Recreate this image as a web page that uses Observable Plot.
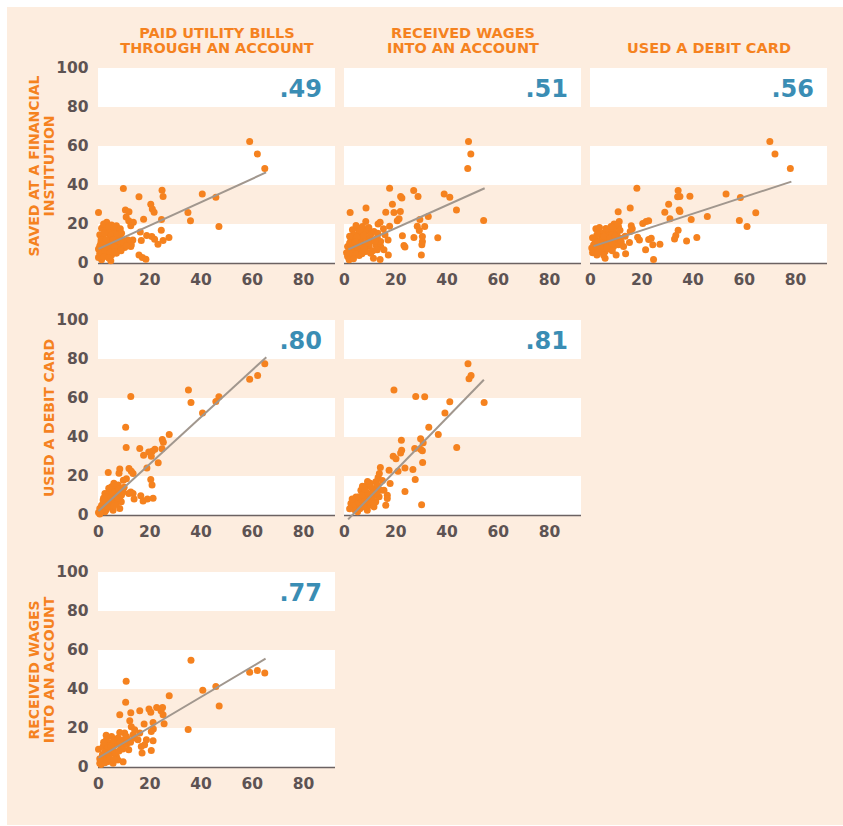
<!DOCTYPE html>
<html><head><meta charset="utf-8">
<script src="https://cdn.jsdelivr.net/npm/d3@7"></script>
<script src="https://cdn.jsdelivr.net/npm/@observablehq/plot@0.6"></script>
<style>html,body{margin:0;padding:0;background:#fff;}#chart svg{display:block;}</style>
</head><body><div id="chart"></div>
<script>
// ---- categories & labels ----
const columnTitles = ["PAID UTILITY BILLS\nTHROUGH AN ACCOUNT", "RECEIVED WAGES\nINTO AN ACCOUNT", "USED A DEBIT CARD"];
const rowTitles = ["SAVED AT A FINANCIAL\nINSTITUTION", "USED A DEBIT CARD", "RECEIVED WAGES\nINTO AN ACCOUNT"];
const panelCols = [0, 1, 2, 0, 1, 0];
const panelRows = [0, 0, 0, 1, 1, 2];
const correlations = [".49", ".51", ".56", ".80", ".81", ".77"];
const yTicks = [0, 20, 40, 60, 80, 100];
const xTicks = [0, 20, 40, 60, 80];
const bandLevels = [[0, 20], [40, 60], [80, 100]];
// fitted line per panel: [x1, y1, x2, y2]
const fitLines = [[0, 7.5, 65.4, 46.7], [1.5, 7.2, 54.7, 38.6], [1.2, 8.9, 78.4, 42.0], [0, 2.3, 65.5, 81.2], [1.4, -2.0, 54.4, 69.6], [0, 5.0, 65.2, 55.8]];

// ---- series values (x, y) ----
const utilitySaved = [[59.0,62.6],[62.0,56.2],[64.9,48.7],[9.7,38.5],[24.8,37.6],[25.2,34.4],[15.8,34.2],[40.5,35.6],[45.8,34.0],[0,26.2],[20.4,30.4],[21.0,28.0],[21.7,26.3],[10.5,27.5],[11.9,26.5],[34.9,26.2],[35.9,21.9],[47.0,19.0],[17.6,22.7],[24.6,22.6],[10.8,23.9],[11.8,21.9],[13.6,21.2],[12.6,19.3],[24.5,17.1],[16.3,16.2],[27.5,13.3],[25.2,11.8],[18.8,14.4],[20.8,13.8],[21.9,12.5],[23.2,9.9],[16.7,11.8],[13.4,12.0],[12.6,8.7],[15.8,4.4],[17.1,3.1],[18.5,2.2],[4.8,1.4],[3.2,21.2],[5.1,19.8],[7.0,19.3],[1.2,18.1],[3.1,17.6],[5.7,17.3],[7.7,16.4],[0.5,14.7],[3.8,15.6],[1.8,13.0],[4.4,13.3],[6.4,13.8],[8.3,13.0],[9.6,12.1],[10.9,10.4],[12.8,9.6],[0.9,10.4],[3.1,10.4],[5.1,10.9],[7.0,9.6],[8.9,8.7],[0,7.5],[1.8,7.9],[3.8,7.0],[5.7,7.0],[7.7,7.0],[10.2,8.2],[0.5,5.3],[3.1,4.8],[5.1,4.4],[0,3.1],[1.2,1.9],[7.0,5.3],[11.5,12.1],[2.0,20.3],[4.0,19.0],[6.0,18.5],[8.5,17.8],[2.3,15.8],[5.0,14.5],[7.3,14.8],[9.0,15.5],[1.0,12.0],[3.0,12.2],[5.8,12.3],[7.8,11.5],[2.0,9.3],[4.2,9.0],[6.2,8.5],[9.8,10.8],[1.0,6.0],[2.5,6.5],[4.5,5.8],[6.5,6.0],[8.8,6.5],[2.0,3.5],[4.0,2.8],[0.5,9.0],[11.0,9.0]];
const wagesSaved = [[48.4,62.6],[49.3,56.2],[48.1,48.7],[17.6,38.6],[21.9,34.4],[22.4,33.6],[27.0,37.4],[28.7,34.4],[38.9,35.6],[41.1,34.0],[43.7,27.5],[54.3,22.1],[2.2,26.2],[8.4,28.5],[18.7,30.4],[16.1,26.3],[19.3,26.2],[21.8,26.7],[21.3,22.9],[20.6,21.9],[17.6,19.1],[15.2,17.8],[13.9,21.2],[13.1,20.2],[32.7,24.1],[29.4,22.6],[28.4,19.1],[31.3,19.0],[29.2,16.9],[36.4,13.2],[30.4,13.8],[27.1,13.3],[22.6,14.2],[30.4,11.3],[30.2,9.6],[23.2,9.2],[23.6,8.5],[30.0,4.4],[17.1,4.3],[17.0,12.1],[13.9,2.1],[11.3,2.7],[10.2,15.6],[8.3,21.5],[3.1,17.3],[5.1,18.1],[7.0,19.0],[8.9,17.3],[3.8,14.7],[5.7,15.6],[8.3,16.4],[10.2,14.7],[11.5,16.4],[2.5,12.1],[4.4,12.6],[6.4,13.0],[8.9,13.0],[10.9,12.1],[12.8,13.3],[1.2,8.7],[3.1,9.6],[5.1,9.9],[7.7,9.6],[9.6,8.7],[12.2,9.6],[14.1,8.7],[1.8,6.2],[3.8,6.5],[6.4,7.0],[8.3,6.2],[10.2,5.3],[12.8,7.0],[1.2,3.6],[3.1,3.6],[5.7,4.1],[1.8,1.9],[15.4,7.0],[14.1,11.3],[4.5,19.5],[6.0,16.8],[9.5,18.5],[2.0,14.0],[4.8,13.5],[7.5,14.5],[9.8,11.0],[11.8,11.5],[2.0,10.5],[4.2,11.0],[6.8,10.8],[8.8,10.5],[3.0,7.5],[5.2,7.8],[7.5,8.0],[11.0,6.5],[2.5,5.0],[4.5,4.8],[6.8,5.0],[0.8,5.5],[3.5,2.5],[13.0,15.5],[15.8,14.8]];
const debitSaved = [[70.0,62.6],[72.0,56.2],[78.0,48.7],[18.1,38.6],[34.2,37.4],[34.0,34.2],[34.9,34.4],[38.8,34.5],[52.9,35.6],[58.5,33.8],[64.5,26.0],[58.1,22.1],[61.1,19.0],[45.6,24.1],[39.3,22.6],[30.5,30.4],[34.6,27.5],[34.9,26.7],[29.0,26.3],[31.0,22.9],[15.5,28.5],[10.8,26.5],[20.4,20.5],[21.7,21.5],[22.7,21.9],[15.9,19.3],[16.3,17.8],[15.5,16.4],[11.2,21.5],[10.9,19.0],[9.2,20.2],[2.1,17.8],[34.2,17.1],[33.3,14.4],[32.8,12.6],[41.5,13.3],[37.5,11.6],[27.1,9.9],[24.3,9.6],[23.7,13.0],[22.7,12.3],[19.1,12.1],[18.4,13.5],[15.2,10.8],[21.5,7.0],[24.6,2.1],[13.7,5.0],[10.0,4.3],[5.7,2.7],[3.1,16.4],[5.1,15.6],[7.0,16.8],[9.0,17.3],[4.4,13.8],[6.4,14.4],[8.3,14.7],[10.3,15.0],[1.8,12.1],[3.8,11.6],[5.7,12.1],[7.7,11.3],[9.6,12.1],[11.6,13.0],[1.2,9.6],[3.1,9.6],[5.1,8.7],[7.0,9.2],[9.0,8.7],[10.9,9.6],[12.9,8.7],[1.8,7.0],[3.8,6.5],[5.7,6.2],[7.7,7.5],[2.5,4.4],[5.1,4.4],[3.5,18.5],[6.0,18.0],[8.0,19.0],[2.5,14.8],[5.3,14.0],[7.5,13.0],[9.5,14.0],[0.8,13.2],[2.8,11.0],[4.8,10.5],[6.5,10.8],[8.5,10.2],[0.5,8.0],[2.3,8.2],[4.3,7.8],[6.3,8.0],[8.5,6.5],[0.8,5.5],[3.0,5.8],[12.0,11.0],[13.5,14.0],[11.5,17.0]];
const utilityDebit = [[64.9,77.8],[62.1,71.8],[59.0,69.9],[35.1,64.3],[36.1,57.9],[12.6,61.0],[47.0,60.9],[45.8,58.5],[40.6,52.6],[10.6,45.3],[10.8,34.9],[27.6,41.5],[24.9,39.0],[25.3,37.6],[24.8,34.2],[16.1,34.4],[22.0,34.0],[21.0,33.0],[19.6,32.6],[17.6,30.9],[20.6,30.4],[23.3,27.0],[18.9,24.4],[8.3,23.8],[3.8,22.1],[8.0,21.7],[11.9,24.1],[12.8,22.7],[13.5,21.5],[10.9,18.8],[9.7,18.1],[20.4,18.5],[20.9,15.6],[7.7,15.6],[6.6,13.5],[5.1,13.0],[3.8,11.6],[12.6,12.1],[11.8,11.3],[13.5,11.3],[13.9,8.4],[16.5,10.1],[17.4,7.4],[19.1,8.4],[21.3,8.9],[8.3,3.6],[8.4,9.6],[6.4,7.9],[1.2,5.3],[0,1.5],[2.5,1.9],[4.4,4.4],[5.1,7.0],[3.1,7.9],[7.0,6.2],[5.7,9.6],[1.8,3.6],[3.8,10.4],[2.5,11.3],[5.1,14.7],[7.0,12.1],[9.6,12.1],[1.8,7.9],[8.9,7.0],[0.5,3.6],[5.7,2.7],[1.0,2.5],[3.0,3.0],[4.0,6.0],[2.0,6.5],[6.0,5.0],[3.0,9.5],[4.5,9.0],[6.5,10.5],[7.5,9.0],[5.5,12.0],[8.0,13.5],[9.0,10.5],[10.0,14.5],[4.0,14.0],[6.0,16.5],[2.0,9.0],[3.5,4.5],[0.5,0.8]];
const wagesDebit = [[48.2,77.8],[49.4,71.8],[48.6,70.1],[19.3,64.3],[27.8,61.0],[31.3,60.9],[54.5,57.9],[41.1,58.3],[39.2,52.6],[32.9,45.3],[36.6,41.5],[43.8,34.9],[22.2,38.6],[29.7,39.3],[30.7,37.3],[27.4,34.4],[29.7,34.0],[30.4,33.2],[22.3,33.5],[21.9,32.1],[19.0,30.4],[20.1,29.1],[30.5,27.2],[23.6,24.4],[26.7,23.6],[20.9,22.7],[17.4,23.2],[14.0,24.6],[13.6,21.5],[13.1,19.5],[27.6,18.5],[17.8,16.4],[23.6,12.3],[30.1,5.5],[16.1,5.3],[16.7,10.4],[15.4,13.0],[12.8,14.7],[11.3,13.0],[8.9,15.6],[3.1,4.1],[5.1,1.9],[8.9,2.7],[7.0,6.2],[5.7,9.6],[7.7,11.3],[10.2,8.7],[12.2,7.0],[13.5,9.6],[9.6,5.3],[11.5,4.4],[4.4,7.9],[6.4,13.0],[8.3,9.6],[10.9,11.3],[14.1,13.0],[2.5,6.2],[5.1,5.3],[10.2,14.7],[14.8,18.0],[12.2,17.3],[16.7,8.7],[4.0,3.0],[6.0,3.5],[7.5,4.5],[3.5,5.8],[5.5,7.0],[6.5,8.5],[8.0,7.5],[9.5,7.0],[4.5,9.5],[7.0,10.5],[9.0,11.5],[11.0,9.5],[12.5,11.5],[8.0,13.5],[10.0,16.5],[9.0,17.5],[7.0,15.0],[3.0,8.5],[2.0,3.5],[13.0,15.5],[11.5,6.0]];
const utilityWages = [[36.1,55.0],[59.0,48.8],[62.0,49.7],[64.9,48.5],[10.8,44.2],[45.8,41.6],[40.7,39.6],[27.6,36.8],[47.1,31.5],[10.6,33.4],[35.0,19.5],[8.3,27.1],[12.6,28.1],[16.1,29.1],[19.7,30.0],[20.4,28.3],[22.7,30.8],[25.0,30.8],[24.4,29.1],[25.2,27.1],[12.2,24.0],[12.8,20.9],[17.8,22.3],[21.3,23.1],[25.6,22.5],[21.4,19.7],[20.6,18.5],[16.1,17.7],[13.5,16.8],[18.7,14.2],[21.3,13.7],[16.7,10.8],[18.0,11.7],[20.6,8.7],[17.0,7.4],[11.8,9.1],[9.6,2.9],[10.2,17.7],[8.3,18.0],[7.6,15.1],[5.1,15.9],[3.1,14.2],[4.4,12.5],[0,9.4],[1.8,10.8],[6.4,11.7],[8.9,10.8],[11.5,14.2],[14.1,15.1],[5.1,7.4],[7.0,5.7],[2.5,5.7],[0.5,2.2],[1.2,3.9],[3.8,3.1],[5.7,2.2],[7.6,3.9],[3.1,9.1],[9.6,14.2],[10.9,15.9],[14.1,19.4],[15.4,14.2],[1.5,6.5],[2.5,8.0],[4.0,6.0],[5.5,9.0],[6.5,8.0],[8.0,8.5],[3.5,11.0],[5.0,11.0],[7.5,12.5],[2.0,13.0],[6.0,14.0],[8.5,13.0],[1.0,1.5],[2.5,2.5],[4.5,4.5],[6.0,4.0],[9.5,9.5],[11.0,12.0],[12.5,13.0],[3.0,16.5],[0.5,4.5]];
const panelPoints = [utilitySaved, wagesSaved, debitSaved, utilityDebit, wagesDebit, utilityWages];

// ---- tables built from the arrays above ----
const panels = panelCols.map((col, i) => ({col, row: panelRows[i], r: correlations[i]}));
const points = panelPoints.flatMap((pts, i) => pts.map(([x, y]) => ({x, y, col: panelCols[i], row: panelRows[i]})));
const bands = panels.flatMap(p => bandLevels.map(([lo, hi]) => ({lo, hi, col: p.col, row: p.row})));
const fits = fitLines.map(([x1, y1, x2, y2], i) => ({x1, y1, x2, y2, col: panelCols[i], row: panelRows[i]}));
const colTitleData = columnTitles.map((t, i) => ({t, col: i, row: 0}));
const rowTitleData = rowTitles.map((t, i) => ({t, col: 0, row: i}));

const orange = "#f5821f";
const inkGray = "#5d5353";
const blue = "#3a8db4";
const font = "'DejaVu Sans', sans-serif";

const chart = Plot.plot({
  width: 843,
  height: 826,
  marginLeft: 97,
  marginRight: 16,
  marginTop: 67.5,
  marginBottom: 58.3,
  fx: {domain: [0, 1, 2], paddingInner: 0.0385, paddingOuter: 0, axis: null},
  fy: {domain: [0, 1, 2], paddingInner: 0.228, paddingOuter: 0, axis: null},
  x: {domain: [0, 92.5], label: null},
  y: {domain: [0, 100], label: null},
  style: {
    background: "linear-gradient(#fdeddf,#fdeddf) 7px 7px / 836px 818px no-repeat, #ffffff",
    fontFamily: font,
    color: inkGray,
    overflow: "visible"
  },
  marks: [
    Plot.rect(bands, {y1: "lo", y2: "hi", fx: "col", fy: "row", fill: "#ffffff"}),
    Plot.ruleY(panels, {y: 0, fx: "col", fy: "row", stroke: "#6b6262", strokeWidth: 1.6}),
    Plot.dot(points, {x: "x", y: "y", fx: "col", fy: "row", r: 3.5, fill: orange, stroke: null}),
    Plot.link(fits, {x1: "x1", y1: "y1", x2: "x2", y2: "y2", fx: "col", fy: "row", stroke: "#a1978e", strokeWidth: 2}),
    Plot.text(panels, {text: "r", fx: "col", fy: "row", frameAnchor: "top-right", textAnchor: "end", lineAnchor: "middle", dx: -13.5, dy: 21, fontSize: 24, fontWeight: "bold", fill: blue}),
    Plot.axisY(yTicks, {anchor: "left", facetAnchor: "left", tickSize: 0, tickPadding: 10, fontSize: 15.5, fontWeight: "bold", color: inkGray, label: null}),
    Plot.axisX(xTicks, {anchor: "bottom", facetAnchor: null, tickSize: 0, tickPadding: 10, fontSize: 15.5, fontWeight: "bold", color: inkGray, label: null}),
    Plot.text(colTitleData, {text: "t", fx: "col", fy: "row", frameAnchor: "top", textAnchor: "middle", lineAnchor: "bottom", dy: -16, fontSize: 14.5, lineHeight: 1.02, fontWeight: "bold", fill: orange}),
    Plot.text(rowTitleData, {text: "t", fx: "col", fy: "row", frameAnchor: "left", textAnchor: "middle", lineAnchor: "bottom", rotate: -90, dx: -45, fontSize: 14, lineHeight: 1.07, fontWeight: "bold", fill: orange})
  ]
});
document.getElementById("chart").appendChild(chart);
</script>
</body></html>
